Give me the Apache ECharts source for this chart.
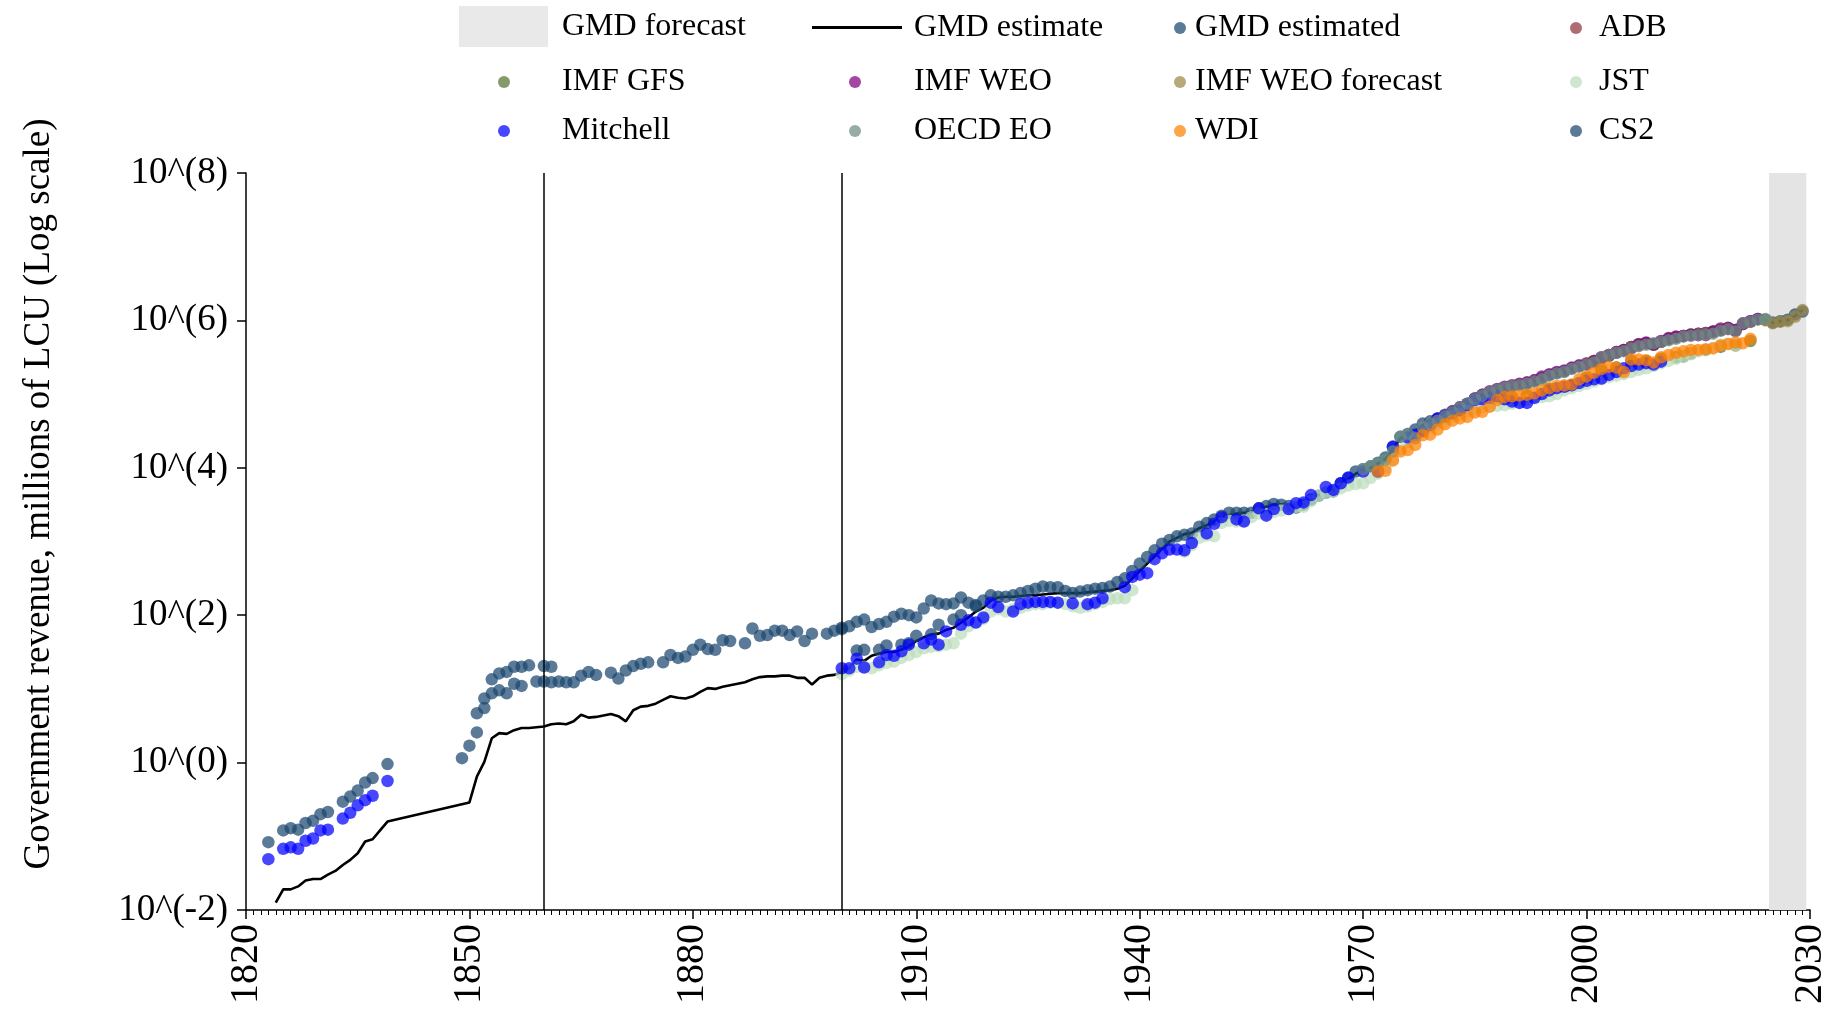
<!DOCTYPE html>
<html><head><meta charset="utf-8">
<script src="https://cdn.jsdelivr.net/npm/echarts@6/dist/echarts.min.js"></script>
<style>html,body{margin:0;padding:0;background:#fff}#c{width:1837px;height:1014px}</style>
</head><body><div id="c"></div>
<script>
// Values are log10 of government revenue (millions of LCU); axis labels show 10^(k)
const yearMin = 1820, yearMax = 2030, yearStep = 30;
const expMin = -2, expMax = 8, expStep = 2;
const forecastBand = [2024.5, 2029.5];
const markerYears = [1860, 1900];

const gmdEstimate = [
[1824,-1.90],[1825,-1.72],[1826,-1.72],[1827,-1.68],[1828,-1.60],[1829,-1.58],[1830,-1.58],[1831,-1.52],[1832,-1.47],[1833,-1.39],[1834,-1.32],[1835,-1.23],[1836,-1.07],[1837,-1.04],[1838,-0.92],[1839,-0.80],
[1850,-0.54],[1851,-0.19],[1852,0.01],[1853,0.33],[1854,0.40],[1855,0.39],[1856,0.44],[1857,0.47],[1858,0.47],[1859,0.48],[1860,0.49],[1861,0.52],[1862,0.53],[1863,0.52],[1864,0.56],[1865,0.65],[1866,0.61],[1867,0.62],[1868,0.64],[1869,0.66],[1870,0.63],[1871,0.56],[1872,0.71],[1873,0.76],[1874,0.77],[1875,0.80],[1876,0.85],[1877,0.90],[1878,0.88],[1879,0.87],[1880,0.90],[1881,0.96],[1882,1.01],[1883,1.00],[1884,1.03],[1885,1.05],[1886,1.07],[1887,1.09],[1888,1.13],[1889,1.16],[1890,1.17],[1891,1.17],[1892,1.18],[1893,1.18],[1894,1.15],[1895,1.15],[1896,1.06],[1897,1.15],[1898,1.18],[1899,1.19],[1900,1.23],
[1901,1.28],[1902,1.40],[1903,1.38],[1904,1.45],[1905,1.48],[1906,1.50],[1907,1.50],[1908,1.53],[1909,1.58],[1910,1.65],[1911,1.70],[1912,1.74],[1913,1.75],[1914,1.80],[1915,1.83],[1916,1.90],[1917,1.97],[1918,2.05],[1919,2.10],[1920,2.20],[1921,2.24],[1922,2.25],[1923,2.25],[1924,2.26],[1925,2.27],[1926,2.27],[1927,2.28],[1928,2.29],[1929,2.30],[1930,2.30],[1931,2.30],[1932,2.30],[1933,2.31],[1934,2.32],[1935,2.33],[1936,2.34],[1937,2.36],[1938,2.40],[1939,2.50],[1940,2.60],[1941,2.70],[1942,2.80],[1943,2.90],[1944,3.00],[1945,3.05],[1946,3.10],[1947,3.12],[1948,3.18],[1949,3.22],[1950,3.27],[1951,3.32],[1952,3.36],[1953,3.38],[1954,3.39],[1955,3.40],[1956,3.44],[1957,3.47],[1958,3.50],[1959,3.50],[1960,3.50],[1961,3.48],[1962,3.50],[1963,3.58],[1964,3.63],[1965,3.67],[1966,3.70],[1967,3.78],[1968,3.85],[1969,3.92],[1970,3.97],[1971,4.00],[1972,4.06],[1973,4.12],[1974,4.25],[1975,4.40],[1976,4.44],[1977,4.50],[1978,4.58],[1979,4.62],[1980,4.66],[1981,4.71],[1982,4.76],[1983,4.81],[1984,4.86],[1985,4.93],[1986,4.98],[1987,5.02],[1988,5.05],[1989,5.08],[1990,5.10],[1991,5.12],[1992,5.14],[1993,5.17],[1994,5.21],[1995,5.25],[1996,5.28],[1997,5.30],[1998,5.34],[1999,5.37],[2000,5.40],[2001,5.43],[2002,5.48],[2003,5.51],[2004,5.55],[2005,5.58],[2006,5.63],[2007,5.66],[2008,5.68],[2009,5.66],[2010,5.70],[2011,5.74],[2012,5.76],[2013,5.78],[2014,5.80],[2015,5.81],[2016,5.82],[2017,5.84],[2018,5.86],[2019,5.88],[2020,5.86],[2021,5.95],[2022,5.98],[2023,6.01],[2024,6.00],[2025,5.97],[2026,5.99],[2027,6.00],[2028,6.06],[2029,6.14]];

const gmdEstimated = [
[1851,0.41],[1852,0.74],[1853,0.94],[1854,0.98],[1855,0.94],[1856,1.07],[1857,1.04],[1859,1.10],[1860,1.10],[1861,1.09],
[1900,1.83],[1902,1.52],[1903,1.53],[1905,1.53],[1906,1.59],[1908,1.60],[1909,1.62],[1910,1.72],[1912,1.74],[1913,1.87],[1915,1.94],[1916,2.00],[1918,2.14],[1919,2.20],
[1920,2.27],[1921,2.25],[1922,2.25],[1923,2.27],[1924,2.30],[1925,2.33],[1926,2.36],[1927,2.39],[1928,2.38],[1929,2.38],[1930,2.33],[1931,2.30],[1932,2.32],[1933,2.34],[1934,2.36],[1935,2.37],[1936,2.39],[1937,2.45],[1938,2.50],[1939,2.60],[1940,2.70],[1941,2.79],[1942,2.88],[1943,2.97],[1944,3.02],[1945,3.07],[1946,3.09],[1947,3.11],[1948,3.20],[1949,3.25],[1950,3.30],[1951,3.35],[1952,3.39],[1953,3.39],[1954,3.39],[1955,3.39],[1956,3.45],[1957,3.48],[1958,3.51],[1959,3.50],[1960,3.48],[1961,3.46],[1962,3.50],[1963,3.57],[1964,3.62],[1965,3.66],[1966,3.68],[1967,3.79],[1968,3.86],[1969,3.95],[1970,3.98],[1971,4.02],[1972,4.07],[1973,4.14],[1974,4.28],[1975,4.42],[1976,4.46],[1977,4.52],[1978,4.60],[1979,4.63],[1980,4.67],[1981,4.72],[1982,4.77],[1983,4.82],[1984,4.87],[1985,4.94],[1986,4.99],[1987,5.03],[1988,5.06],[1989,5.09],[1990,5.11],[1991,5.13],[1992,5.15],[1993,5.18],[1994,5.22],[1995,5.26],[1996,5.29],[1997,5.31],[1998,5.35],[1999,5.38],[2000,5.41],[2001,5.44],[2002,5.49],[2003,5.52],[2004,5.56],[2005,5.59],[2006,5.64],[2007,5.67],[2008,5.69],[2009,5.67],[2010,5.71],[2011,5.75],[2012,5.77],[2013,5.79],[2014,5.81],[2015,5.82],[2016,5.83],[2017,5.85],[2018,5.87],[2019,5.89],[2020,5.87],[2021,5.96],[2022,5.99],[2023,6.02],
[2024,6.01],[2025,5.97],[2026,5.99],[2027,6.01],[2028,6.08],[2029,6.12]];

const adb = [[2000,5.42],[2001,5.45],[2002,5.49],[2003,5.53],[2004,5.57],[2005,5.60],[2006,5.64],[2007,5.66],[2008,5.69],[2009,5.67],[2010,5.71],[2011,5.74],[2012,5.77],[2013,5.79],[2014,5.81],[2015,5.82],[2016,5.83],[2017,5.84],[2018,5.87],[2019,5.89],[2020,5.86],[2021,5.95],[2022,5.98]];

const imfGfs = [[1990,4.95],[1992,4.98],[1995,5.07],[1998,5.12],[2000,5.22],[2002,5.32],[2004,5.36],[2006,5.45],[2008,5.45],[2010,5.48],[2012,5.50],[2013,5.51],[2014,5.55],[2016,5.60],[2018,5.64],[2020,5.66],[2022,5.72]];

const imfWeo = [[1980,4.66],[1981,4.71],[1982,4.76],[1983,4.82],[1984,4.87],[1985,4.94],[1986,4.99],[1987,5.04],[1988,5.07],[1989,5.10],[1990,5.12],[1991,5.14],[1992,5.16],[1993,5.19],[1994,5.24],[1995,5.27],[1996,5.30],[1997,5.32],[1998,5.36],[1999,5.39],[2000,5.40],[2001,5.45],[2002,5.50],[2003,5.53],[2004,5.57],[2005,5.60],[2006,5.62],[2007,5.68],[2008,5.70],[2009,5.68],[2010,5.72],[2011,5.76],[2012,5.78],[2013,5.79],[2014,5.80],[2015,5.80],[2016,5.80],[2017,5.85],[2018,5.89],[2019,5.90],[2020,5.87],[2021,5.95],[2022,5.99],[2023,6.02]];

const imfWeoForecast = [[2024,6.00],[2025,5.96],[2026,5.98],[2027,5.99],[2028,6.05],[2029,6.14]];

const jst = [[1900,1.20],[1901,1.25],[1902,1.30],[1903,1.30],[1904,1.28],[1905,1.32],[1906,1.35],[1907,1.37],[1908,1.42],[1909,1.46],[1910,1.50],[1911,1.55],[1912,1.57],[1913,1.58],[1914,1.60],[1915,1.62],[1916,1.75],[1917,1.85],[1918,1.90],[1919,1.95],[1920,2.05],[1921,2.08],[1922,2.05],[1923,2.08],[1924,2.10],[1925,2.13],[1926,2.15],[1927,2.15],[1928,2.17],[1929,2.17],[1930,2.15],[1931,2.12],[1932,2.10],[1933,2.12],[1934,2.15],[1935,2.18],[1936,2.22],[1937,2.23],[1938,2.23],[1939,2.34],
[1946,2.86],[1947,2.95],[1948,3.05],[1949,3.08],[1950,3.07],[1951,3.25],[1952,3.28],[1953,3.27],[1954,3.28],[1955,3.33],[1956,3.38],[1957,3.37],[1958,3.40],[1959,3.42],[1960,3.44],[1961,3.47],[1962,3.47],[1963,3.55],[1964,3.62],[1965,3.66],[1966,3.68],[1967,3.72],[1968,3.76],[1969,3.78],[1970,3.79],[1971,3.86],[1972,3.92],[1973,4.00],[1974,4.10],[1975,4.25],[1976,4.35],[1977,4.42],[1978,4.48],[1979,4.55],[1980,4.60],[1981,4.65],[1982,4.70],[1983,4.73],[1984,4.77],[1985,4.80],[1986,4.82],[1987,4.83],[1988,4.84],[1989,4.85],[1990,4.87],[1991,4.90],[1992,4.92],[1993,4.94],[1994,4.96],[1995,4.97],[1996,5.00],[1997,5.05],[1998,5.08],[1999,5.11],[2000,5.14],[2001,5.17],[2002,5.20],[2003,5.23],[2004,5.25],[2005,5.27],[2006,5.30],[2007,5.33],[2008,5.35],[2009,5.38],[2010,5.42],[2011,5.45],[2012,5.48],[2013,5.51],[2014,5.54],[2015,5.58],[2016,5.60],[2017,5.63],[2018,5.67],[2019,5.68],[2020,5.66]];

const mitchell = [[1823,-1.31],[1825,-1.17],[1826,-1.15],[1827,-1.17],[1828,-1.06],[1829,-1.03],[1830,-0.92],[1831,-0.91],[1833,-0.76],[1834,-0.68],[1835,-0.58],[1836,-0.51],[1837,-0.45],[1839,-0.25],
[1900,1.28],[1901,1.28],[1902,1.41],[1903,1.29],[1905,1.36],[1906,1.46],[1907,1.45],[1908,1.51],[1909,1.60],[1911,1.62],[1912,1.67],[1913,1.60],[1914,1.78],[1916,1.87],[1917,1.93],[1918,1.90],[1919,1.97],[1920,2.17],[1921,2.11],[1923,2.05],[1924,2.15],[1925,2.17],[1926,2.18],[1927,2.18],[1928,2.18],[1929,2.17],[1931,2.16],[1933,2.15],[1934,2.17],[1935,2.23],[1938,2.38],[1939,2.52],[1940,2.55],[1941,2.57],[1942,2.76],[1943,2.84],[1944,2.89],[1945,2.89],[1946,2.88],[1947,2.98],[1949,3.11],[1950,3.24],[1951,3.33],[1953,3.30],[1954,3.27],[1956,3.45],[1957,3.35],[1958,3.44],[1960,3.44],[1961,3.52],[1962,3.53],[1963,3.63],[1965,3.74],[1966,3.70],[1967,3.79],[1968,3.87],[1970,3.95],[1972,3.95],[1974,4.29],[1976,4.41],[1977,4.45],[1978,4.50],[1979,4.58],[1980,4.67],[1981,4.70],[1982,4.74],[1983,4.78],[1984,4.85],[1985,4.92],[1986,4.93],[1987,4.95],[1988,4.97],[1989,4.93],[1990,4.90],[1991,4.88],[1992,4.88],[1993,4.95],[1994,5.00],[1995,5.05],[1996,5.08],[1997,5.10],[1998,5.12],[1999,5.15],[2000,5.18],[2001,5.20],[2002,5.21],[2003,5.26],[2004,5.30],[2005,5.35],[2006,5.38],[2007,5.40],[2008,5.42],[2009,5.40],[2010,5.44]];

const oecdEo = [[1970,3.98],[1971,4.02],[1972,4.06],[1973,4.11],[1974,4.22],[1975,4.42],[1976,4.46],[1977,4.40],[1978,4.55],[1979,4.60],[1980,4.64],[1981,4.70],[1982,4.75],[1983,4.82],[1984,4.87],[1985,4.93],[1986,4.98],[1987,5.03],[1988,5.06],[1989,5.09],[1990,5.11],[1991,5.12],[1992,5.14],[1993,5.17],[1994,5.20],[1995,5.25],[1996,5.28],[1997,5.30],[1998,5.34],[1999,5.37],[2000,5.40],[2001,5.43],[2002,5.50],[2003,5.53],[2004,5.56],[2005,5.58],[2006,5.62],[2007,5.65],[2008,5.67],[2009,5.69],[2010,5.71],[2011,5.73],[2012,5.75],[2013,5.78],[2014,5.79],[2015,5.80],[2016,5.81],[2017,5.82],[2018,5.86],[2019,5.88],[2020,5.85],[2021,5.96],[2022,5.98],[2023,6.01],[2024,6.02]];

const wdi = [[1972,3.95],[1973,3.96],[1974,4.10],[1975,4.22],[1976,4.24],[1977,4.31],[1978,4.44],[1979,4.45],[1980,4.52],[1981,4.59],[1982,4.64],[1983,4.67],[1984,4.69],[1985,4.75],[1986,4.76],[1987,4.83],[1988,4.92],[1989,4.96],[1990,4.97],[1991,4.98],[1992,4.99],[1993,5.01],[1994,5.05],[1995,5.08],[1996,5.11],[1997,5.12],[1998,5.13],[1999,5.20],[2000,5.24],[2001,5.29],[2002,5.34],[2003,5.37],[2004,5.36],[2005,5.30],[2006,5.47],[2007,5.47],[2008,5.46],[2009,5.43],[2010,5.50],[2011,5.53],[2012,5.56],[2013,5.58],[2014,5.60],[2015,5.60],[2016,5.61],[2017,5.62],[2018,5.66],[2019,5.68],[2020,5.70],[2021,5.69],[2022,5.75]];

const cs2 = [[1823,-1.08],[1825,-0.92],[1826,-0.89],[1827,-0.91],[1828,-0.82],[1829,-0.79],[1830,-0.70],[1831,-0.67],[1833,-0.53],[1834,-0.46],[1835,-0.38],[1836,-0.27],[1837,-0.21],[1839,-0.02],
[1849,0.06],[1850,0.23],[1851,0.67],[1852,0.87],[1853,1.13],[1854,1.21],[1855,1.23],[1856,1.30],[1857,1.30],[1858,1.32],[1860,1.31],[1861,1.30],
[1862,1.10],[1863,1.09],[1864,1.09],[1865,1.18],[1866,1.23],[1867,1.19],[1869,1.22],[1870,1.14],[1871,1.25],[1872,1.31],[1873,1.34],[1874,1.36],[1876,1.36],[1877,1.46],[1878,1.42],[1879,1.44],[1880,1.53],[1881,1.60],[1882,1.54],[1883,1.53],[1884,1.66],[1885,1.65],[1887,1.62],[1888,1.82],[1889,1.72],[1890,1.73],[1891,1.79],[1892,1.79],[1893,1.73],[1894,1.78],[1895,1.65],[1896,1.75],[1898,1.75],[1899,1.79],[1900,1.81],
[1901,1.85],[1902,1.91],[1903,1.94],[1904,1.84],[1905,1.88],[1906,1.91],[1907,1.98],[1908,2.02],[1909,2.00],[1910,1.97],[1911,2.09],[1912,2.20],[1913,2.16],[1914,2.15],[1915,2.16],[1916,2.24],[1917,2.17],[1918,2.12]];

const FONT = 'Liberation Serif';
const chart = echarts.init(document.getElementById('c'), null, {renderer: 'canvas'});

function sc(name, data, color) {
  return {type: 'scatter', name, data, symbol: 'circle', symbolSize: 12.5, silent: true, z: 3,
    itemStyle: {color, opacity: 0.72}, emphasis: {disabled: true}};
}

function lg(name, left, top, w, h, pad, icon) {
  return {data: [{name, icon}], left, top, itemWidth: w, itemHeight: h,
    selectedMode: false, padding: 0, orient: 'horizontal',
    textStyle: {fontFamily: FONT, fontSize: 32, color: '#000', padding: [0, 0, 0, pad]}};
}

const r1 = 26, r2 = 80, r3 = 129;
const dotTop = 14;
const legends = [
  lg('GMD forecast', 459, r1 - 20, 89, 41, 9, 'rect'),
  lg('GMD estimate', 812, r1 - 14.5, 90, 3, 7, 'rect'),
  lg('GMD estimated', 1174, r1 - dotTop, 12, 12, 4, 'circle'),
  lg('ADB', 1570, r1 - dotTop, 12, 12, 12, 'circle'),
  lg('IMF GFS', 498, r2 - dotTop, 12, 12, 47, 'circle'),
  lg('IMF WEO', 849, r2 - dotTop, 12, 12, 48, 'circle'),
  lg('IMF WEO forecast', 1174, r2 - dotTop, 12, 12, 4, 'circle'),
  lg('JST', 1570, r2 - dotTop, 12, 12, 12, 'circle'),
  lg('Mitchell', 498, r3 - dotTop, 12, 12, 47, 'circle'),
  lg('OECD EO', 849, r3 - dotTop, 12, 12, 48, 'circle'),
  lg('WDI', 1174, r3 - dotTop, 12, 12, 4, 'circle'),
  lg('CS2', 1570, r3 - dotTop, 12, 12, 12, 'circle')
];

const option = {
  animation: false,
  backgroundColor: '#fff',
  textStyle: {fontFamily: FONT},
  legend: legends,
  grid: {left: 246, right: 27, top: 173, bottom: 104, containLabel: false},
  xAxis: {
    type: 'value', min: yearMin, max: yearMax, interval: yearStep,
    axisLine: {show: true, onZero: false, lineStyle: {color: '#000', width: 1.5}},
    axisTick: {show: true, inside: false, length: 9, lineStyle: {color: '#000', width: 1.5}},
    minorTick: {show: true, splitNumber: 30, length: 5, lineStyle: {color: '#000', width: 1}},
    splitLine: {show: false}, minorSplitLine: {show: false},
    axisLabel: {rotate: 90, margin: 14, fontFamily: FONT, fontSize: 40, color: '#000',
      formatter: v => String(v)}
  },
  yAxis: {
    type: 'value', min: expMin, max: expMax, interval: expStep,
    axisLine: {show: true, onZero: false, lineStyle: {color: '#000', width: 1.5}},
    axisTick: {show: true, inside: false, length: 9, lineStyle: {color: '#000', width: 1.5}},
    splitLine: {show: false},
    axisLabel: {margin: 18, fontFamily: FONT, fontSize: 37, color: '#000',
      formatter: v => '10^(' + v + ')'}
  },
  graphic: [{
    type: 'text', x: 39, y: 494, rotation: Math.PI / 2,
    style: {text: 'Government revenue, millions of LCU (Log scale)', font: '37px "Liberation Serif"',
      fill: '#000', align: 'center', verticalAlign: 'middle', textAlign: 'center', textVerticalAlign: 'middle'}
  }],
  series: [
    {type: 'scatter', name: 'GMD forecast', data: [], silent: true, z: 0,
      itemStyle: {color: '#e4e4e4'},
      markArea: {silent: true, itemStyle: {color: '#e4e4e4', opacity: 1},
        data: [[{xAxis: forecastBand[0]}, {xAxis: forecastBand[1]}]]}},
    {type: 'line', name: 'GMD estimate', data: gmdEstimate, symbol: 'none', showSymbol: false, silent: true, z: 1,
      lineStyle: {color: '#000', width: 2.6}, itemStyle: {color: '#000'},
      markLine: {silent: true, symbol: ['none', 'none'], label: {show: false},
        lineStyle: {color: '#000', width: 1.5, type: 'solid'},
        data: markerYears.map(y => ({xAxis: y}))}},
    sc('GMD estimated', gmdEstimated, '#1a476f'),
    sc('ADB', adb, '#90353b'),
    sc('IMF GFS', imfGfs, '#55752f'),
    sc('IMF WEO', imfWeo, '#800080'),
    sc('IMF WEO forecast', imfWeoForecast, '#9c8847'),
    sc('JST', jst, '#bcdcbc'),
    sc('Mitchell', mitchell, '#0000ff'),
    sc('OECD EO', oecdEo, '#6e8e84'),
    sc('WDI', wdi, '#ff8000'),
    sc('CS2', cs2, '#1a476f')
  ]
};
chart.setOption(option);
</script>
</body></html>
